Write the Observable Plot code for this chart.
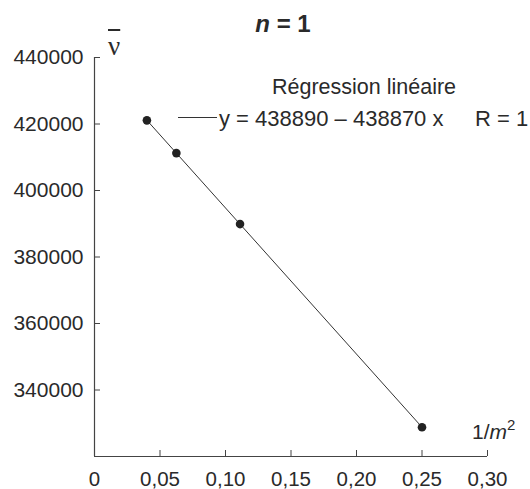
<!DOCTYPE html>
<html>
<head>
<meta charset="utf-8">
<script src="https://cdn.jsdelivr.net/npm/d3@7"></script>
<script src="https://cdn.jsdelivr.net/npm/@observablehq/plot@0.6"></script>
<style>
  html, body { margin: 0; padding: 0; background: #fff; }
  #wrap { position: relative; width: 530px; height: 489px; font-family: "Liberation Sans", Arial, sans-serif; color: #2a2a2a; }
  .ov { position: absolute; white-space: nowrap; line-height: 1; }
  #title { left: 0; width: 566px; top: 12px; text-align: center; font-size: 24px; font-weight: bold; }
  #legTitle { left: 272px; top: 77px; font-size: 21.5px; }
  #legLine { left: 178px; top: 117px; width: 39px; height: 0; border-top: 1px solid #333; }
  #legEq { left: 219px; top: 108px; font-size: 22px; }
  #legR { left: 475px; top: 108px; font-size: 22px; }
  #xlab { left: 472px; top: 417px; font-size: 21px; }
  #ylab { left: 108px; top: 33px; font-size: 27px; font-family: "Liberation Serif", "DejaVu Serif", serif; text-decoration: overline; text-decoration-thickness: 1.5px; }
</style>
</head>
<body>
<div id="wrap"></div>
<script>
// Data: n = 1 series, x = 1/m^2, y = wavenumber (nu bar)
const invM2 = [0.04, 0.0625, 0.1111, 0.25];
const nuBar = [421100, 411250, 389900, 328800];
const xTicks = [0, 0.05, 0.10, 0.15, 0.20, 0.25, 0.30];
const xTickLabels = ["0", "0,05", "0,10", "0,15", "0,20", "0,25", "0,30"];
const yTicks = [340000, 360000, 380000, 400000, 420000, 440000];
const yTickLabels = ["340000", "360000", "380000", "400000", "420000", "440000"];
const titleText = "= 1";
const legendTitle = "Régression linéaire";
const legendEq = "y = 438890 – 438870 x";
const legendR = "R = 1";

const points = invM2.map((x, i) => ({x, y: nuBar[i]}));
const ink = "#2a2a2a";

const chart = Plot.plot({
  width: 530,
  height: 489,
  marginLeft: 94,
  marginRight: 43,
  marginTop: 57,
  marginBottom: 33,
  style: {fontFamily: "'Liberation Sans', Arial, sans-serif", fontSize: "21px", color: ink, background: "#fff"},
  x: {domain: [0, 0.30]},
  y: {domain: [320000, 440000]},
  marks: [
    Plot.axisX({ticks: xTicks, tickFormat: d => xTickLabels[xTicks.indexOf(d)], tickSize: -6, tickPadding: 21, fontSize: 20.5, label: null, stroke: "#444", fill: ink}),
    Plot.axisY({ticks: yTicks, tickFormat: d => yTickLabels[yTicks.indexOf(d)], tickSize: -6, tickPadding: 17, label: null, stroke: "#444", fill: ink}),
    Plot.ruleX([0], {y1: 320000, y2: 440000, stroke: "#444", strokeWidth: 1.2}),
    Plot.ruleY([320000], {x1: 0, x2: 0.30, stroke: "#444", strokeWidth: 1.2}),
    Plot.linearRegressionY(points, {x: "x", y: "y", ci: 0, stroke: "#333", strokeWidth: 1}),
    Plot.dot(points, {x: "x", y: "y", r: 4.3, fill: "#222", stroke: "none"})
  ]
});

const wrap = document.getElementById("wrap");
wrap.appendChild(chart);
const add = (id, html) => { const d = document.createElement("div"); d.className = "ov"; d.id = id; d.innerHTML = html; wrap.appendChild(d); };
add("title", "<i>n</i> " + titleText);
add("legTitle", legendTitle);
add("legLine", "");
add("legEq", legendEq);
add("legR", legendR);
add("xlab", "1/<i>m</i><sup style='font-size:15px;vertical-align:9px'>2</sup>");
add("ylab", "ν");
</script>
</body>
</html>
